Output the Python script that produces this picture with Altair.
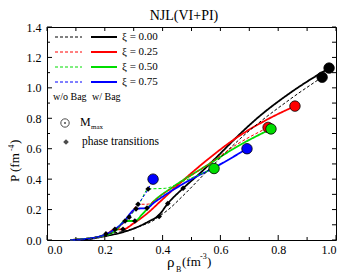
import altair as alt
import pandas as pd

W, H = 289, 213
FONT = "Liberation Serif"

xi_labels = ["0.00", "0.25", "0.50", "0.75"]
xi_colors = ["#000000", "#ff0000", "#00dd00", "#0000ff"]

# w/ Bag (solid) curves
bk_solid_x = [0.08, 0.15, 0.20, 0.26, 0.30, 0.35, 0.388, 0.418, 0.471, 0.53, 0.59, 0.645, 0.73, 0.84, 0.976]
bk_solid_y = [0.0, 0.008, 0.025, 0.05, 0.075, 0.12, 0.165, 0.24, 0.34, 0.44, 0.55, 0.655, 0.805, 0.965, 1.13]
rd_solid_x = [0.08, 0.20, 0.235, 0.263, 0.30, 0.35, 0.39, 0.47, 0.55, 0.67, 0.76, 0.858]
rd_solid_y = [0.0, 0.03, 0.07, 0.07, 0.11, 0.18, 0.25, 0.39, 0.52, 0.69, 0.79, 0.88]
gr_solid_x = [0.08, 0.20, 0.24, 0.27, 0.304, 0.33, 0.367, 0.437, 0.553, 0.668, 0.775]
gr_solid_y = [0.0, 0.03, 0.065, 0.125, 0.125, 0.17, 0.25, 0.35, 0.49, 0.625, 0.73]
bl_solid_x = [0.08, 0.14, 0.20, 0.235, 0.263, 0.308, 0.346, 0.37, 0.437, 0.50, 0.578, 0.692]
bl_solid_y = [0.0, 0.008, 0.035, 0.07, 0.115, 0.205, 0.21, 0.245, 0.33, 0.40, 0.475, 0.60]

# w/o Bag (dashed) curves
bk_dash_x = [0.08, 0.15, 0.204, 0.26, 0.32, 0.37, 0.388, 0.42, 0.47, 0.553, 0.668, 0.841, 0.952]
bk_dash_y = [0.0, 0.006, 0.04, 0.055, 0.09, 0.13, 0.155, 0.20, 0.29, 0.45, 0.665, 0.925, 1.07]
rd_dash_x = [0.08, 0.20, 0.25, 0.29, 0.315, 0.346, 0.40, 0.48, 0.56, 0.65, 0.765]
rd_dash_y = [0.0, 0.035, 0.085, 0.165, 0.235, 0.235, 0.30, 0.40, 0.50, 0.62, 0.74]
gr_dash_x = [0.08, 0.20, 0.25, 0.284, 0.32, 0.35, 0.41, 0.47, 0.578]
gr_dash_y = [0.0, 0.035, 0.09, 0.15, 0.24, 0.335, 0.34, 0.385, 0.47]
bl_dash_x = [0.08, 0.20, 0.25, 0.284, 0.304, 0.315, 0.35, 0.367]
bl_dash_y = [0.0, 0.035, 0.09, 0.15, 0.205, 0.235, 0.335, 0.40]

# M_max points
mmax_x = [0.976, 0.952, 0.858, 0.765, 0.775, 0.578, 0.692, 0.367]
mmax_y = [1.13, 1.07, 0.88, 0.74, 0.73, 0.47, 0.60, 0.40]
mmax_xi = ["0.00", "0.00", "0.25", "0.25", "0.50", "0.50", "0.75", "0.75"]

# phase transitions
pt_x = [0.204, 0.235, 0.263, 0.270, 0.284, 0.304, 0.308, 0.315, 0.346, 0.350, 0.388, 0.418, 0.471]
pt_y = [0.04, 0.07, 0.07, 0.125, 0.15, 0.125, 0.205, 0.235, 0.21, 0.335, 0.155, 0.24, 0.34]

x_major = [0.0, 0.2, 0.4, 0.6, 0.8, 1.0]
x_minor = [0.1, 0.3, 0.5, 0.7, 0.9]
y_major = [0.0, 0.2, 0.4, 0.6, 0.8, 1.0, 1.2, 1.4]
y_minor = [0.1, 0.3, 0.5, 0.7, 0.9, 1.1, 1.3]

curves = [
    ("0.00", "w/ Bag", bk_solid_x, bk_solid_y),
    ("0.25", "w/ Bag", rd_solid_x, rd_solid_y),
    ("0.50", "w/ Bag", gr_solid_x, gr_solid_y),
    ("0.75", "w/ Bag", bl_solid_x, bl_solid_y),
    ("0.00", "w/o Bag", bk_dash_x, bk_dash_y),
    ("0.25", "w/o Bag", rd_dash_x, rd_dash_y),
    ("0.50", "w/o Bag", gr_dash_x, gr_dash_y),
    ("0.75", "w/o Bag", bl_dash_x, bl_dash_y),
]
rows = []
for xi, kind, xs, ys in curves:
    for i, (a, b) in enumerate(zip(xs, ys)):
        rows.append({"xi": xi, "kind": kind, "curve": xi + kind, "idx": i, "x": a, "y": b})
df_lines = pd.DataFrame(rows)
df_mmax = pd.DataFrame({"x": mmax_x, "y": mmax_y, "xi": mmax_xi})
df_pt = pd.DataFrame({"x": pt_x, "y": pt_y})

xscale = alt.Scale(domain=[0, 1], nice=False, zero=False)
yscale = alt.Scale(domain=[0, 1.4], nice=False, zero=False)
xaxis = alt.Axis(values=x_major, format=".1f", ticks=False, domain=False, grid=False, title=None,
                 labelFont=FONT, labelFontSize=12, labelColor="black", labelPadding=4, labelOverlap=False)
yaxis = alt.Axis(values=y_major, format=".1f", ticks=False, domain=False, grid=False, title=None,
                 labelFont=FONT, labelFontSize=12, labelColor="black", labelPadding=6, labelOverlap=False)
cscale = alt.Scale(domain=xi_labels, range=xi_colors)

lines = alt.Chart(df_lines).mark_line(interpolate="monotone").encode(
    x=alt.X("x:Q", scale=xscale, axis=xaxis),
    y=alt.Y("y:Q", scale=yscale, axis=yaxis),
    color=alt.Color("xi:N", scale=cscale, legend=None),
    strokeDash=alt.StrokeDash("kind:N", scale=alt.Scale(domain=["w/ Bag", "w/o Bag"], range=[[1, 0], [3, 2]]), legend=None),
    strokeWidth=alt.StrokeWidth("kind:N", scale=alt.Scale(domain=["w/ Bag", "w/o Bag"], range=[1.8, 1.0]), legend=None),
    detail="curve:N",
    order="idx:Q",
)

circles = alt.Chart(df_mmax).mark_circle(size=110, stroke="black", strokeWidth=0.8, opacity=1).encode(
    x=alt.X("x:Q", scale=xscale, axis=xaxis), y=alt.Y("y:Q", scale=yscale, axis=yaxis),
    color=alt.Color("xi:N", scale=cscale, legend=None),
)

diamonds = alt.Chart(df_pt).mark_point(shape="diamond", filled=True, size=32, color="black", opacity=1).encode(
    x=alt.X("x:Q", scale=xscale, axis=xaxis), y=alt.Y("y:Q", scale=yscale, axis=yaxis),
)

def xticks(vals, length, top):
    d = pd.DataFrame({"x": vals})
    if top:
        return alt.Chart(d).mark_rule(color="black", strokeWidth=1).encode(
            x=alt.X("x:Q", scale=xscale, axis=xaxis), y=alt.value(0), y2=alt.value(length))
    return alt.Chart(d).mark_rule(color="black", strokeWidth=1).encode(
        x=alt.X("x:Q", scale=xscale, axis=xaxis), y=alt.value(H), y2=alt.value(H - length))

def yticks(vals, length, right):
    d = pd.DataFrame({"y": vals})
    if right:
        return alt.Chart(d).mark_rule(color="black", strokeWidth=1).encode(
            y=alt.Y("y:Q", scale=yscale, axis=yaxis), x=alt.value(W), x2=alt.value(W - length))
    return alt.Chart(d).mark_rule(color="black", strokeWidth=1).encode(
        y=alt.Y("y:Q", scale=yscale, axis=yaxis), x=alt.value(0), x2=alt.value(length))

ticks = [xticks(x_major, 5, False), xticks(x_minor, 3, False), xticks(x_major + x_minor, 4, True),
         yticks(y_major, 5, False), yticks(y_minor, 3, False), yticks(y_major + y_minor, 4, True)]

dummy = pd.DataFrame({"a": [0]})

def txt(s, x, y, size=11, align="left", baseline="middle", angle=0):
    return alt.Chart(dummy).mark_text(text=s, align=align, baseline=baseline, fontSize=size,
                                      font=FONT, angle=angle, color="black").encode(
        x=alt.value(x), y=alt.value(y))

def hline(x1, x2, y, color, dash, width):
    return alt.Chart(dummy).mark_rule(color=color, strokeWidth=width, strokeDash=dash).encode(
        x=alt.value(x1), x2=alt.value(x2), y=alt.value(y))

legend = []
for i, (lab, col) in enumerate(zip(xi_labels, xi_colors)):
    yy = 10 + 15 * i
    legend.append(hline(8, 35, yy, col, [3, 2], 1.0))
    legend.append(hline(44, 70, yy, col, [1, 0], 1.8))
    legend.append(txt("ξ = " + lab, 75, yy, size=11))
legend.append(txt("w/o Bag", 6, 70, size=10))
legend.append(txt("w/ Bag", 45, 70, size=10))

leg_pts = pd.DataFrame({"a": [0]})
legend.append(alt.Chart(leg_pts).mark_point(shape="circle", size=70, color="black", strokeWidth=1, filled=False).encode(
    x=alt.value(18), y=alt.value(96)))
legend.append(alt.Chart(leg_pts).mark_point(shape="circle", size=4, color="black", filled=True).encode(
    x=alt.value(18), y=alt.value(96)))
legend.append(txt("M", 33, 95, size=12))
legend.append(txt("max", 44, 100, size=7))
legend.append(alt.Chart(leg_pts).mark_point(shape="diamond", size=32, color="black", filled=True).encode(
    x=alt.value(19), y=alt.value(115)))
legend.append(txt("phase transitions", 35, 115, size=11.5))

labels = [
    txt("NJL(VI+PI)", 137, -11, size=14, align="center"),
    txt("ρ", 120, 240, size=15, baseline="alphabetic"),
    txt("B", 129, 245, size=8, baseline="alphabetic"),
    txt("(fm", 135, 239, size=13, baseline="alphabetic"),
    txt("-3", 153, 232, size=8, baseline="alphabetic"),
    txt(")", 160, 239, size=13, baseline="alphabetic"),
    txt("P (fm", -32, 155, size=13, angle=270, baseline="middle"),
    txt("-4", -35, 124, size=7.5, angle=270, baseline="middle"),
    txt(")", -32, 117, size=13, angle=270, baseline="middle"),
]

chart = alt.layer(lines, *ticks, circles, diamonds, *legend, *labels).properties(
    width=W, height=H,
    autosize=alt.AutoSizeParams(type="none"),
    padding={"left": 39, "top": 19, "right": 13, "bottom": 36},
).configure_view(stroke="black", strokeWidth=1).configure_axis(labelOverlap=False)

chart.save("out.html", embed_options={"renderer": "svg", "actions": False})
